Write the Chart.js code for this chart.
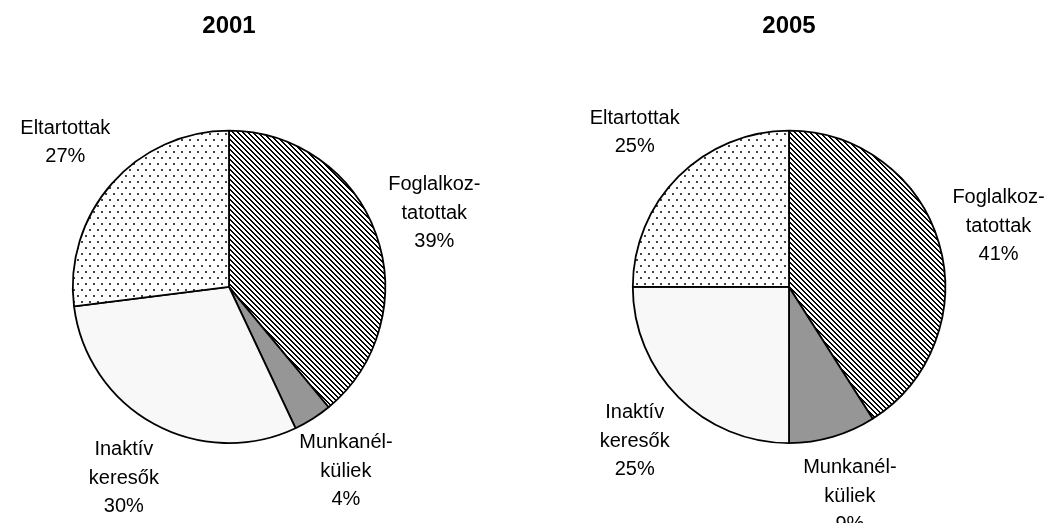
<!DOCTYPE html>
<html>
<head>
<meta charset="utf-8">
<script src="https://cdn.jsdelivr.net/npm/chart.js@4"></script>
<style>
  body { margin: 0; background: #fff; }
  .pie { position: absolute; top: 0; width: 520px; height: 523px; }
  #p1 { left: 0; }
  #p2 { left: 527px; }
</style>
</head>
<body>
<div class="pie" id="p1"><canvas id="chart2001"></canvas></div>
<div class="pie" id="p2"><canvas id="chart2005"></canvas></div>
<script>
const categories = ["Foglalkoztatottak", "Munkanélküliek", "Inaktív keresők", "Eltartottak"];
const labelLines = [["Foglalkoz-", "tatottak"], ["Munkanél-", "küliek"], ["Inaktív", "keresők"], ["Eltartottak"]];
const values2001 = [39, 4, 30, 27];
const values2005 = [41, 9, 25, 25];

// patterns like the old excel fills
function hatchPattern() {
    const c = document.createElement("canvas");
    c.width = 5; c.height = 5;
    const g = c.getContext("2d");
    const img = g.createImageData(5, 5);
    for (let y = 0; y < 5; y++) {
        for (let x = 0; x < 5; x++) {
            const d = ((x - y) % 5 + 5) % 5;
            const v = d < 2 ? 0 : 255;
            const i = (y * 5 + x) * 4;
            img.data[i] = img.data[i + 1] = img.data[i + 2] = v;
            img.data[i + 3] = 255;
        }
    }
    g.putImageData(img, 0, 0);
    return g.createPattern(c, "repeat");
}

function dotPattern() {
    const c = document.createElement("canvas");
    c.width = 8; c.height = 12;
    const g = c.getContext("2d");
    g.fillStyle = "#fff";
    g.fillRect(0, 0, 8, 12);
    g.fillStyle = "#444";
    g.fillRect(1, 1, 2, 2);
    g.fillRect(5, 7, 2, 2);
    return g.createPattern(c, "repeat");
}

const fills = [hatchPattern(), "#969696", "#f8f8f8", dotPattern()];

const outsideLabels = {
    id: "outsideLabels",
    afterDatasetsDraw(chart) {
        const ctx = chart.ctx;
        const meta = chart.getDatasetMeta(0);
        const data = chart.data.datasets[0].data;
        ctx.save();
        ctx.font = "20px 'Liberation Sans', Arial, sans-serif";
        ctx.fillStyle = "#000";
        ctx.textAlign = "center";
        ctx.textBaseline = "middle";
        meta.data.forEach((arc, i) => {
            const p = arc.getProps(["x", "y", "startAngle", "endAngle", "outerRadius"], true);
            const mid = (p.startAngle + p.endAngle) / 2;
            const dist = p.outerRadius + 62;
            const cx = p.x + Math.cos(mid) * dist;
            const cy = p.y + Math.sin(mid) * dist;
            const lines = labelLines[i].concat([data[i] + "%"]);
            const lh = 28.5;
            const top = cy - (lines.length - 1) * lh / 2;
            lines.forEach((t, j) => ctx.fillText(t, cx, top + j * lh));
        });
        ctx.restore();
    }
};

function makePie(id, year, values, padLeft, padRight) {
    new Chart(document.getElementById(id), {
        type: "pie",
        data: {
            labels: categories,
            datasets: [{
                data: values,
                backgroundColor: fills,
                borderColor: "#000",
                borderWidth: 1.8
            }]
        },
        options: {
            responsive: true,
            maintainAspectRatio: false,
            animation: false,
            layout: { padding: { top: 0, bottom: 79, left: padLeft, right: padRight } },
            plugins: {
                legend: { display: false },
                tooltip: { enabled: false },
                title: {
                    display: true,
                    text: year,
                    color: "#000",
                    font: { family: "'Liberation Sans', Arial, sans-serif", size: 24, weight: "bold", lineHeight: 1.2 },
                    padding: { top: 12, bottom: 89 }
                }
            }
        },
        plugins: [outsideLabels]
    });
}

makePie("chart2001", "2001", values2001, 0, 62);
makePie("chart2005", "2005", values2005, 33, 29);
</script>
</body>
</html>
